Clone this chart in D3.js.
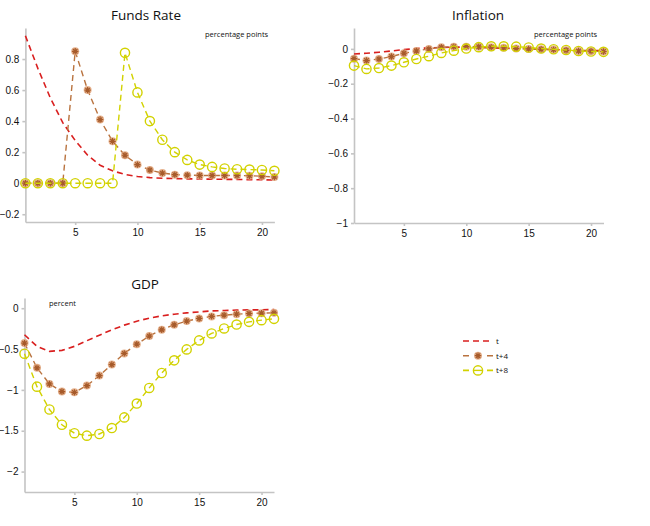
<!DOCTYPE html>
<html>
<head>
<meta charset="utf-8">
<script src="https://cdn.jsdelivr.net/npm/d3@7"></script>
<style>
  body { margin: 0; background: #fff; }
  svg { font-family: 'Open Sans', 'Noto Sans', sans-serif; }
  .axis path, .axis line { stroke: #c4c4c4; stroke-width: 1.6; }
  .axis text { fill: #111; font-size: 10px; }
</style>
</head>
<body>
<svg id="chart" width="650" height="526"></svg>
<script>
// horizons 1..21
var horizons = d3.range(1, 22);

// funds rate, percentage points
var fundsT  = [0.95, 0.74, 0.55, 0.39, 0.275, 0.18, 0.115, 0.08, 0.056, 0.043, 0.036, 0.032, 0.030, 0.028, 0.027, 0.026, 0.025, 0.024, 0.023, 0.022, 0.020];
var fundsT4 = [0, 0, 0, 0, 0.85, 0.60, 0.41, 0.27, 0.18, 0.12, 0.085, 0.065, 0.055, 0.052, 0.05, 0.05, 0.05, 0.05, 0.048, 0.045, 0.04];
var fundsT8 = [0, 0, 0, 0, 0, 0, 0, 0, 0.84, 0.585, 0.40, 0.28, 0.20, 0.15, 0.12, 0.105, 0.095, 0.09, 0.088, 0.085, 0.08];

// inflation, percentage points
var inflT  = [-0.029, -0.025, -0.019, -0.012, -0.004, 0.002, 0.006, 0.008, 0.010, 0.010, 0.008, 0.006, 0.004, 0.002, 0, -0.002, -0.004, -0.006, -0.008, -0.010, -0.010];
var inflT4 = [-0.056, -0.067, -0.058, -0.044, -0.025, -0.012, 0, 0.010, 0.013, 0.013, 0.012, 0.010, 0.006, 0.002, 0, -0.002, -0.004, -0.008, -0.012, -0.013, -0.015];
var inflT8 = [-0.096, -0.115, -0.110, -0.096, -0.077, -0.058, -0.042, -0.023, -0.010, 0.002, 0.010, 0.015, 0.015, 0.013, 0.008, 0.002, -0.002, -0.006, -0.012, -0.015, -0.017];

// GDP, percent
var gdpT  = [-0.325, -0.467, -0.528, -0.516, -0.467, -0.398, -0.33, -0.264, -0.207, -0.159, -0.122, -0.093, -0.073, -0.057, -0.045, -0.033, -0.028, -0.024, -0.020, -0.020, -0.016];
var gdpT4 = [-0.427, -0.73, -0.927, -1.02, -1.03, -0.947, -0.825, -0.69, -0.553, -0.44, -0.341, -0.264, -0.203, -0.158, -0.126, -0.10, -0.085, -0.073, -0.065, -0.061, -0.057];
var gdpT8 = [-0.557, -0.96, -1.24, -1.427, -1.53, -1.56, -1.54, -1.467, -1.337, -1.167, -0.976, -0.793, -0.638, -0.504, -0.394, -0.309, -0.248, -0.20, -0.167, -0.146, -0.13];

var xTicks = [5, 10, 15, 20];
var seriesNames = ['t', 't+4', 't+8'];

var red = '#d91f1f', brown = '#b9733f', yellow = '#d2d200';

var svg = d3.select('#chart');

var panels = [
  { title: 'Funds Rate', unit: 'percentage points', data: [fundsT, fundsT4, fundsT8],
    x0: 25.4, x1: 274.4, yTop: 28, yBot: 222, domain: [-0.25, 1],
    yTicks: [-0.2, 0, 0.2, 0.4, 0.6, 0.8], titleX: 146, titleY: 20, unitX: 205, unitY: 37 },
  { title: 'Inflation', unit: 'percentage points', data: [inflT, inflT4, inflT8],
    x0: 354, x1: 603.5, yTop: 28, yBot: 223, domain: [-1, 0.12],
    yTicks: [-1, -0.8, -0.6, -0.4, -0.2, 0], titleX: 478, titleY: 20, unitX: 534, unitY: 37 },
  { title: 'GDP', unit: 'percent', data: [gdpT, gdpT4, gdpT8],
    x0: 24.5, x1: 274, yTop: 298, yBot: 492, domain: [-2.25, 0.125],
    yTicks: [-2, -1.5, -1, -0.5, 0], titleX: 145, titleY: 289, unitX: 49, unitY: 306 }
];

// asterisk marker path
function star(r) {
  var p = '';
  for (var i = 0; i < 4; i++) {
    var a = i * Math.PI / 4;
    var dx = r * Math.cos(a), dy = r * Math.sin(a);
    p += 'M' + (-dx) + ',' + (-dy) + 'L' + dx + ',' + dy;
  }
  return p;
}

panels.forEach(function(p) {
  var x = d3.scaleLinear().domain([1, 21]).range([p.x0, p.x1]);
  var y = d3.scaleLinear().domain(p.domain).range([p.yBot, p.yTop]);

  svg.append('g').attr('class', 'axis')
    .attr('transform', 'translate(0,' + p.yBot + ')')
    .call(d3.axisBottom(x).tickValues(xTicks).tickSize(3).tickSizeOuter(0).tickPadding(4));

  svg.append('g').attr('class', 'axis')
    .attr('transform', 'translate(' + p.x0 + ',0)')
    .call(d3.axisLeft(y).tickValues(p.yTicks).tickSize(3).tickSizeOuter(0).tickPadding(3)
      .tickFormat(d3.format('')));

  svg.append('text').attr('x', p.titleX).attr('y', p.titleY)
    .attr('text-anchor', 'middle').attr('font-size', '13.5px').attr('fill', '#111')
    .text(p.title);
  svg.append('text').attr('x', p.unitX).attr('y', p.unitY)
    .attr('font-size', '7.5px').attr('fill', '#111').text(p.unit);

  var line = d3.line()
    .x(function(d, i) { return x(horizons[i]); })
    .y(function(d) { return y(d); });

  // t
  svg.append('path').datum(p.data[0]).attr('d', line)
    .attr('fill', 'none').attr('stroke', red).attr('stroke-width', 1.6)
    .attr('stroke-dasharray', '6,4');

  // t+4
  svg.append('path').datum(p.data[1]).attr('d', line)
    .attr('fill', 'none').attr('stroke', brown).attr('stroke-width', 1.4)
    .attr('stroke-dasharray', '6,4');
  var g4 = svg.append('g').selectAll('g').data(p.data[1]).enter().append('g')
    .attr('transform', function(d, i) { return 'translate(' + x(horizons[i]) + ',' + y(d) + ')'; });
  g4.append('circle').attr('r', 4).attr('fill', '#e2a57a').attr('opacity', 0.85);
  g4.append('path').attr('d', star(3.2)).attr('stroke', '#a65a2a').attr('stroke-width', 1.2);

  // t+8
  svg.append('path').datum(p.data[2]).attr('d', line)
    .attr('fill', 'none').attr('stroke', yellow).attr('stroke-width', 1.4)
    .attr('stroke-dasharray', '6,4');
  svg.append('g').selectAll('circle').data(p.data[2]).enter().append('circle')
    .attr('cx', function(d, i) { return x(horizons[i]); })
    .attr('cy', function(d) { return y(d); })
    .attr('r', 4.6).attr('fill', 'none').attr('stroke', yellow).attr('stroke-width', 1.4);
});

// legend
var legend = svg.append('g').attr('transform', 'translate(463,341)');
seriesNames.forEach(function(name, i) {
  var g = legend.append('g').attr('transform', 'translate(0,' + (i * 14.7) + ')');
  var col = [red, brown, yellow][i];
  g.append('line').attr('x1', 0).attr('x2', 30).attr('y1', 0).attr('y2', 0)
    .attr('stroke', col).attr('stroke-width', 1.6)
    .attr('stroke-dasharray', i === 0 ? '6,4' : '6,9,0,9,6');
  if (i === 1) {
    g.append('circle').attr('cx', 15).attr('r', 4).attr('fill', '#e2a57a').attr('opacity', 0.85);
    g.append('path').attr('transform', 'translate(15,0)').attr('d', star(3.2))
      .attr('stroke', '#a65a2a').attr('stroke-width', 1.2);
  }
  if (i === 2) {
    g.append('circle').attr('cx', 15).attr('r', 4.6).attr('fill', 'none')
      .attr('stroke', yellow).attr('stroke-width', 1.4);
    g.append('line').attr('x1', 11).attr('x2', 19).attr('stroke', yellow).attr('stroke-width', 1.4);
  }
  g.append('text').attr('x', 33).attr('y', 3).attr('font-size', '8px').attr('fill', '#111').text(name);
});
</script>
</body>
</html>
